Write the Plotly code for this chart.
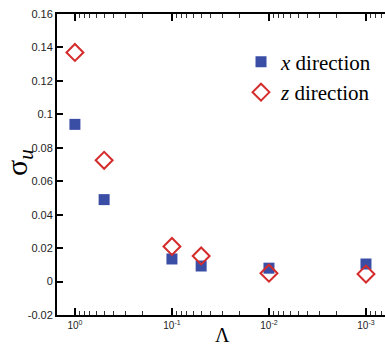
import plotly.graph_objects as go
import numpy as np

lam = [1, 0.5, 0.1, 0.05, 0.01, 0.001]
sigma_x = [0.094, 0.049, 0.0135, 0.0093, 0.008, 0.0105]
sigma_z = [0.137, 0.0725, 0.021, 0.0153, 0.005, 0.0045]
xtick_vals = [1, 0.1, 0.01, 0.001]
xtick_text = ["10<sup>0</sup>", "10<sup>-1</sup>", "10<sup>-2</sup>", "10<sup>-3</sup>"]
xminor_vals = [m * d for d in [1, 0.1, 0.01, 0.001] for m in [0.2, 0.3, 0.4, 0.5, 0.6, 0.7, 0.8, 0.9]]
ytick_vals = [-0.02, 0, 0.02, 0.04, 0.06, 0.08, 0.1, 0.12, 0.14, 0.16]
ytick_text = ["-0.02", "0", "0.02", "0.04", "0.06", "0.08", "0.1", "0.12", "0.14", "0.16"]

xrange_log = [np.log10(1.53), -3.196]

fig = go.Figure()
fig.add_trace(go.Scatter(
    x=lam, y=sigma_x, mode="markers", name="<i>x</i> direction",
    marker=dict(symbol="square", size=11, color="#3b4ea6", line=dict(width=0)),
))
fig.add_trace(go.Scatter(
    x=lam, y=sigma_z, mode="markers", name="<i>z</i> direction", xaxis="x2",
    marker=dict(symbol="diamond-open", size=13, color="#d42b2b", line=dict(width=2, color="#d42b2b")),
))

fig.update_layout(
    width=385, height=350,
    margin=dict(l=57, r=0, t=14, b=35),
    plot_bgcolor="white", paper_bgcolor="white",
    showlegend=True,
    legend=dict(x=0.561, y=0.908, xanchor="left", yanchor="top",
                font=dict(family="Liberation Serif", size=21, color="black"),
                bgcolor="rgba(0,0,0,0)", itemwidth=30, tracegroupgap=0),
    font=dict(family="Liberation Sans", size=11, color="#222"),
    xaxis=dict(
        type="log", range=xrange_log, automargin=False,
        tickvals=xtick_vals, ticktext=xtick_text,
        ticks="inside", ticklen=7, tickwidth=1.5, tickcolor="black",
        showline=True, linecolor="black", linewidth=2, mirror="ticks",
        showgrid=False, zeroline=False,
        tickfont=dict(family="Liberation Sans", size=10, color="#222"),
    ),
    xaxis2=dict(
        type="log", range=xrange_log, overlaying="x", side="bottom", automargin=False,
        tickvals=xminor_vals, showticklabels=False,
        ticks="inside", ticklen=4, tickwidth=1, tickcolor="#333",
        showline=True, linecolor="black", linewidth=2, mirror="ticks",
        showgrid=False, zeroline=False,
    ),
    yaxis=dict(
        range=[-0.02, 0.16], automargin=False,
        tickvals=ytick_vals, ticktext=ytick_text,
        ticks="inside", ticklen=6, tickwidth=1.5, tickcolor="black",
        showline=True, linecolor="black", linewidth=2, mirror=False,
        showgrid=False, zeroline=False,
        tickfont=dict(family="Liberation Sans", size=11, color="#222"),
    ),
    annotations=[
        dict(text="Λ", xref="paper", yref="paper", x=(222 - 57) / 328, y=-(335 - 315) / 301,
             xanchor="center", yanchor="middle", showarrow=False,
             font=dict(family="Liberation Serif", size=20, color="black")),
        dict(text="σ<sub><i>u</i></sub>", xref="paper", yref="paper", x=(19 - 57) / 328, y=(315 - 163) / 301,
             xanchor="center", yanchor="middle", showarrow=False, textangle=-90,
             font=dict(family="Liberation Serif", size=30, color="black")),
    ],
)
fig.write_html("out.html", config={"displayModeBar": False},
               post_script="document.body.style.margin='0px';")
